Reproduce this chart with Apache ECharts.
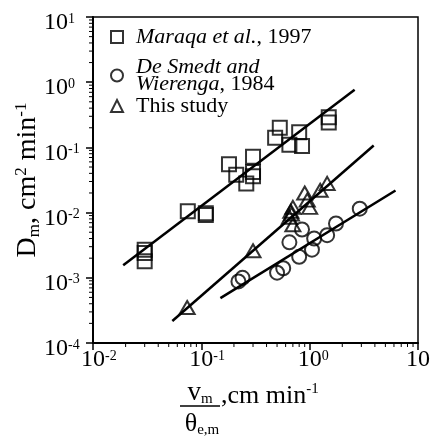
<!DOCTYPE html>
<html>
<head>
<meta charset="utf-8">
<script src="https://cdn.jsdelivr.net/npm/echarts@6/dist/echarts.min.js"></script>
<style>html,body{margin:0;padding:0;background:#fff;}#c{width:431px;height:447px;}</style>
</head>
<body>
<div id="c"></div>
<script>
// Maraqa et al., 1997 (squares)
const maraqaX = [0.03, 0.03, 0.03, 0.075, 0.11, 0.11, 0.18, 0.21, 0.26, 0.3, 0.3, 0.3, 0.48, 0.53, 0.65, 0.8, 0.85, 1.5, 1.5];
const maraqaY = [0.0027, 0.0024, 0.0018, 0.0105, 0.0098, 0.0092, 0.055, 0.038, 0.028, 0.072, 0.042, 0.036, 0.14, 0.2, 0.11, 0.17, 0.105, 0.24, 0.29];
// De Smedt and Wierenga, 1984 (circles)
const smedtX = [0.22, 0.24, 0.5, 0.57, 0.65, 0.8, 0.85, 1.05, 1.1, 1.45, 1.75, 2.9];
const smedtY = [0.00088, 0.001, 0.0012, 0.0014, 0.0035, 0.0021, 0.0055, 0.0027, 0.004, 0.0045, 0.0068, 0.0115];
// This study (triangles)
const studyX = [0.074, 0.3, 0.7, 0.65, 0.68, 0.67, 0.7, 0.9, 0.95, 1.0, 1.25, 1.45];
const studyY = [0.00035, 0.0026, 0.0065, 0.0085, 0.0095, 0.0105, 0.012, 0.02, 0.0155, 0.012, 0.022, 0.028];
// regression lines (end points)
const maraqaLineX = [0.019, 2.6];
const maraqaLineY = [0.00156, 0.766];
const studyLineX = [0.054, 3.9];
const studyLineY = [0.000217, 0.107];
const smedtLineX = [0.15, 6.2];
const smedtLineY = [0.000488, 0.0218];
// axes
const xMin = 0.01, xMax = 10;
const yMin = 0.0001, yMax = 10;
const minorMultipliers = [2, 3, 4, 5, 6, 7, 8, 9];

const FONT = 'Liberation Serif';
const zip = (a, b) => a.map((v, i) => [v, b[i]]);
function minorTicks(lo, hi) {
  const out = [];
  for (let d = lo; d < hi * 0.999; d *= 10) {
    minorMultipliers.forEach(m => out.push(+(m * d).toPrecision(6)));
  }
  return out;
}
const xMinor = minorTicks(xMin, xMax);
const yMinor = minorTicks(yMin, yMax);
const expOf = v => Math.round(Math.log10(v));

const chart = echarts.init(document.getElementById('c'), null, {renderer: 'canvas'});
const legendCommon = {
  orient: 'vertical', padding: 0, itemWidth: 12, itemHeight: 12, selectedMode: false,
  left: 110
};
const legTxt = (lh) => ({
  fontFamily: FONT, fontSize: 22, color: '#000', lineHeight: lh, padding: [0, 0, 0, 8],
  rich: {
    i: {fontFamily: FONT, fontSize: 22, fontStyle: 'italic', color: '#000', lineHeight: lh},
    n: {fontFamily: FONT, fontSize: 22, color: '#000', lineHeight: lh}
  }
});

const option = {
  animation: false,
  backgroundColor: '#fff',
  grid: {left: 93, right: 13, top: 17, bottom: 104, containLabel: false, outerBoundsMode: 'none',
    show: true, borderColor: '#000', borderWidth: 1.5, backgroundColor: 'transparent'},
  legend: [
    Object.assign({}, legendCommon, {data: ['Maraqa'], top: 26, formatter: () => '{i|Maraqa et al.}{n|, 1997}', textStyle: legTxt(22)}),
    Object.assign({}, legendCommon, {data: ['DeSmedt'], top: 56, formatter: () => '{i|De Smedt and}\n{i|Wierenga}{n|, 1984}', textStyle: legTxt(17)}),
    Object.assign({}, legendCommon, {data: ['Study'], top: 95, formatter: () => '{n|This study}', textStyle: legTxt(22)})
  ],
  xAxis: {
    type: 'log', logBase: 10, min: xMin, max: xMax,
    splitLine: {show: false},
    axisLine: {lineStyle: {color: '#000', width: 2}},
    axisTick: {length: 7, lineStyle: {color: '#000', width: 1.5}},
    axisLabel: {
      margin: 6, hideOverlap: false,
      formatter: v => { const e = String(expOf(v)); return '{pad|' + e + '}{b|10}{s|' + e + '}'; },
      rich: {
        b: {fontFamily: FONT, fontSize: 24, color: '#000', lineHeight: 22},
        s: {fontFamily: FONT, fontSize: 14, color: '#000', lineHeight: 13, verticalAlign: 'top'},
        pad: {fontFamily: FONT, fontSize: 14, color: 'rgba(0,0,0,0)', lineHeight: 13, verticalAlign: 'top'}
      }
    }
  },
  yAxis: {
    type: 'log', logBase: 10, min: yMin, max: yMax,
    splitLine: {show: false},
    axisLine: {lineStyle: {color: '#000', width: 2}},
    axisTick: {length: 7, lineStyle: {color: '#000', width: 1.5}},
    axisLabel: {
      margin: 49, align: 'left', padding: [12, 0, 0, 0],
      formatter: v => '{b|10}{s|' + expOf(v) + '}',
      rich: {
        b: {fontFamily: FONT, fontSize: 24, color: '#000', lineHeight: 22},
        s: {fontFamily: FONT, fontSize: 14, color: '#000', lineHeight: 13, verticalAlign: 'top'}
      }
    },
    name: '{b|D}{s|m}{b|, cm}{p|2}{b| min}{p|-1}',
    nameLocation: 'middle', nameRotate: 90, nameGap: 50, nameMoveOverlap: false,
    nameTextStyle: {
      fontFamily: FONT, fontSize: 28, color: '#000',
      rich: {
        b: {fontFamily: FONT, fontSize: 28, color: '#000', lineHeight: 30},
        s: {fontFamily: FONT, fontSize: 17, color: '#000', lineHeight: 17, verticalAlign: 'bottom'},
        p: {fontFamily: FONT, fontSize: 17, color: '#000', lineHeight: 17, verticalAlign: 'top'}
      }
    }
  },
  graphic: [
    {type: 'text', x: 200, y: 393, style: {text: '{b|v}{s|m}', align: 'center', verticalAlign: 'middle',
      rich: {b: {fontFamily: FONT, fontSize: 27, fill: '#000', lineHeight: 28}, s: {fontFamily: FONT, fontSize: 15, fill: '#000', lineHeight: 15, verticalAlign: 'bottom'}}}},
    {type: 'line', shape: {x1: 180, y1: 406, x2: 220, y2: 406}, style: {stroke: '#000', lineWidth: 1.5}},
    {type: 'text', x: 202, y: 424, style: {text: '{b|θ}{s|e,m}', align: 'center', verticalAlign: 'middle',
      rich: {b: {fontFamily: FONT, fontSize: 26, fill: '#000', lineHeight: 28}, s: {fontFamily: FONT, fontSize: 15, fill: '#000', lineHeight: 15, verticalAlign: 'bottom'}}}},
    {type: 'text', x: 221, y: 396, style: {text: '{b|,cm min}{p|-1}', align: 'left', verticalAlign: 'middle',
      rich: {b: {fontFamily: FONT, fontSize: 26, fill: '#000', lineHeight: 28}, p: {fontFamily: FONT, fontSize: 15, fill: '#000', lineHeight: 15, verticalAlign: 'top'}}}}
  ],
  series: [
    {type: 'line', data: zip(maraqaLineX, maraqaLineY), symbol: 'none', silent: true, lineStyle: {color: '#000', width: 2.5}, z: 3},
    {type: 'line', data: zip(studyLineX, studyLineY), symbol: 'none', silent: true, lineStyle: {color: '#000', width: 2.5}, z: 3},
    {type: 'line', data: zip(smedtLineX, smedtLineY), symbol: 'none', silent: true, lineStyle: {color: '#000', width: 2.5}, z: 3},
    {type: 'scatter', name: 'Maraqa', data: zip(maraqaX, maraqaY), symbol: 'rect', symbolSize: 14,
      itemStyle: {color: 'rgba(0,0,0,0)', borderColor: '#000', borderWidth: 2}, z: 4},
    {type: 'scatter', name: 'DeSmedt', data: zip(smedtX, smedtY), symbol: 'circle', symbolSize: 14,
      itemStyle: {color: 'rgba(0,0,0,0)', borderColor: '#000', borderWidth: 2}, z: 4},
    {type: 'scatter', name: 'Study', data: zip(studyX, studyY), symbol: 'triangle', symbolSize: [15, 13],
      itemStyle: {color: 'rgba(0,0,0,0)', borderColor: '#000', borderWidth: 2}, z: 4},
    {type: 'custom', coordinateSystem: 'cartesian2d', silent: true, clip: false, z: 5,
      data: xMinor.map(v => [v, yMin]),
      renderItem: (params, api) => {
        const p = api.coord([api.value(0), api.value(1)]);
        return {type: 'line', shape: {x1: p[0], y1: p[1], x2: p[0], y2: p[1] + 4}, style: {stroke: '#000', lineWidth: 1}};
      }},
    {type: 'custom', coordinateSystem: 'cartesian2d', silent: true, clip: false, z: 5,
      data: yMinor.map(v => [xMin, v]),
      renderItem: (params, api) => {
        const p = api.coord([api.value(0), api.value(1)]);
        return {type: 'line', shape: {x1: p[0] - 4, y1: p[1], x2: p[0], y2: p[1]}, style: {stroke: '#000', lineWidth: 1}};
      }}
  ]
};
chart.setOption(option);
</script>
</body>
</html>
